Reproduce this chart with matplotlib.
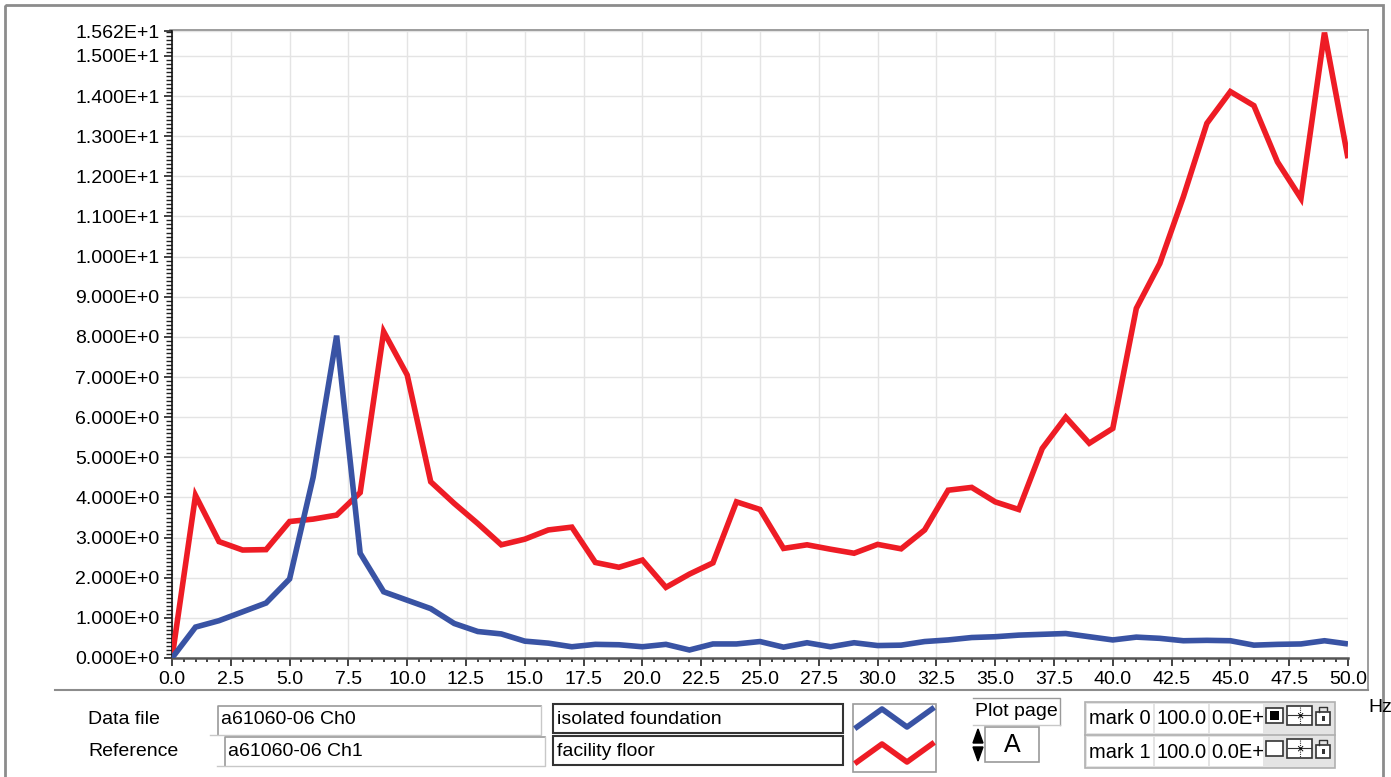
import numpy as np
import matplotlib.pyplot as plt
from matplotlib.patches import Rectangle, Polygon
from matplotlib.lines import Line2D
from matplotlib.ticker import MultipleLocator, FixedLocator, FuncFormatter

plt.rcParams['font.family'] = ['Liberation Sans', 'DejaVu Sans']

# spectrum values, one per Hz
freq = list(range(51))
isolated = [0.0, 0.77, 0.93, 1.15, 1.37, 1.97, 4.5, 8.03, 2.61, 1.65,
            1.44, 1.23, 0.86, 0.66, 0.60, 0.42, 0.37, 0.28, 0.34, 0.33,
            0.28, 0.34, 0.20, 0.35, 0.35, 0.41, 0.27, 0.38, 0.28, 0.38,
            0.31, 0.32, 0.41, 0.45, 0.51, 0.53, 0.57, 0.59, 0.61, 0.53,
            0.45, 0.52, 0.49, 0.43, 0.44, 0.43, 0.32, 0.34, 0.35, 0.43,
            0.35]
facility = [0.0, 4.05, 2.90, 2.69, 2.70, 3.40, 3.46, 3.56, 4.12, 8.13,
            7.05, 4.39, 3.85, 3.35, 2.82, 2.96, 3.19, 3.26, 2.38, 2.26,
            2.44, 1.76, 2.09, 2.37, 3.89, 3.70, 2.73, 2.82, 2.71, 2.61,
            2.83, 2.72, 3.19, 4.18, 4.25, 3.89, 3.70, 5.22, 6.00, 5.35,
            5.72, 8.71, 9.83, 11.49, 13.32, 14.11, 13.76, 12.36, 11.45, 15.58,
            12.45]

y_top = 15.62
y_ticks = list(range(16)) + [y_top]
labels = ['isolated foundation', 'facility floor']
files = ['a61060-06 Ch0', 'a61060-06 Ch1']
marks = ['mark 0', 'mark 1']

BLUE = '#3953a4'
RED = '#ee1c25'
W, H = 1391, 777
PX = 72 / 100.0  # points per pixel
LW = 5.6 * PX

fig = plt.figure(figsize=(W / 100, H / 100), dpi=100)
fig.patch.set_facecolor('white')

ax = fig.add_axes([172 / W, 1 - 658 / H, (1348 - 172) / W, (658 - 31) / H])
ax.plot(freq, facility, color=RED, lw=LW, solid_joinstyle='miter', solid_capstyle='butt', zorder=3)
ax.plot(freq, isolated, color=BLUE, lw=LW, solid_joinstyle='miter', solid_capstyle='butt', zorder=4)
ax.set_xlim(0, 50)
ax.set_ylim(0, y_top)


def sci(v, pos=None):
    e = 1 if v >= 10 else 0
    return '%.3fE+%d' % (v / 10 ** e, e)


ax.yaxis.set_major_locator(FixedLocator(y_ticks))
ax.yaxis.set_major_formatter(FuncFormatter(sci))
ax.yaxis.set_minor_locator(MultipleLocator(0.1))
ax.xaxis.set_major_locator(MultipleLocator(2.5))
ax.xaxis.set_major_formatter(FuncFormatter(lambda v, p: '%.1f' % v))
ax.xaxis.set_minor_locator(MultipleLocator(0.5))
ax.tick_params(axis='both', which='major', labelsize=14, direction='out', width=1.2, color='#222222')
ax.tick_params(axis='y', which='major', length=6, pad=3)
ax.tick_params(axis='y', which='minor', length=4, width=1, color='#222222')
ax.tick_params(axis='x', which='major', length=6, pad=3)
ax.tick_params(axis='x', which='minor', length=3, width=1.2, color='#222222')
ax.grid(True, which='major', color='#e4e4e4', lw=1)
ax.set_axisbelow(True)
for s in ['top', 'right']:
    ax.spines[s].set_visible(False)
ax.spines['left'].set_color('#111111')
ax.spines['left'].set_linewidth(1.2)
ax.spines['bottom'].set_color('#555555')
ax.spines['bottom'].set_linewidth(1.8)

# overlay in pixel coordinates for the frame and the panel below the plot
ov = fig.add_axes([0, 0, 1, 1], zorder=-1)
ov.set_xlim(0, W)
ov.set_ylim(H, 0)
ov.axis('off')

grey = '#8c8c8c'
ov.add_patch(Rectangle((5, 5), 1378, H + 10, fill=False, ec=grey, lw=2))
ov.plot([170, 1368], [30, 30], color=grey, lw=1.2)
ov.plot([1368, 1368], [30, 690], color=grey, lw=1.2)
ov.plot([55, 1368], [690, 690], color=grey, lw=1.5)

fs = 14
ov.text(88, 720, 'Data file', fontsize=fs, va='center')
ov.text(88, 752, 'Reference', fontsize=fs, va='center')

# file name fields
for i, (x0, y0) in enumerate([(218, 706), (225, 737)]):
    ov.plot([x0, x0, 541 + 4 * i], [y0 + 29, y0, y0], color='#9a9a9a', lw=1.2)
    ov.plot([x0 - 8, 541 + 4 * i, 541 + 4 * i], [y0 + 29, y0 + 29, y0], color='#c8c8c8', lw=1)
    ov.text(x0 + 3, y0 + 14, files[i], fontsize=fs, va='center')

# series name fields
for i, y0 in enumerate([704, 736]):
    ov.add_patch(Rectangle((553, y0), 290, 29, fill=False, ec='#333333', lw=1.5))
    ov.text(557, y0 + 15, labels[i], fontsize=14, va='center')

# legend swatch
ov.add_patch(Rectangle((853, 704), 83, 68, fill=False, ec='#9a9a9a', lw=1.2))
zx = [857, 882, 907, 932]
ov.add_line(Line2D(zx, [727, 709, 727, 709], color=BLUE, lw=LW))
ov.add_line(Line2D(zx, [762, 744, 762, 744], color=RED, lw=LW))

# plot page selector
ov.plot([973, 1060, 1060], [698, 698, 725], color='#9a9a9a', lw=1)
ov.plot([973, 1060], [725, 725], color='#c8c8c8', lw=1)
ov.text(975, 712, 'Plot page', fontsize=fs, va='center')
ov.add_patch(Polygon([[973, 743], [983, 743], [978, 729]], color='black'))
ov.add_patch(Polygon([[973, 747], [983, 747], [978, 761]], color='black'))
ov.add_patch(Rectangle((985, 727), 54, 35, fill=False, ec='#9a9a9a', lw=1.2))
ov.text(1012, 745, 'A', fontsize=18, va='center', ha='center')

# marker table
ov.add_patch(Rectangle((1085, 702), 250, 66, fc='#e4e4e4', ec='#b0b0b0', lw=1.2))
ov.plot([1085, 1335], [735, 735], color='#b0b0b0', lw=1.2)
for i, y0 in enumerate([704, 737]):
    for cx, cw in [(1087, 66), (1155, 53), (1210, 53)]:
        ov.add_patch(Rectangle((cx, y0), cw, 29, fc='white', ec='none'))
    yc = y0 + 15
    ov.text(1089, yc, marks[i], fontsize=14.5, va='center')
    ov.text(1157, yc, '100.0', fontsize=14.5, va='center')
    ov.text(1211, yc, '0.0E+', fontsize=14.5, va='center')
    ov.add_patch(Rectangle((1266, y0 + 4), 17, 15, fc='white', ec='#333333', lw=1.2))
    if i == 0:
        ov.add_patch(Rectangle((1270, y0 + 7), 9, 9, fc='black', ec='none'))
    ov.add_patch(Rectangle((1287, y0 + 2), 25, 19, fc='white', ec='#333333', lw=1.2))
    ov.plot([1288, 1311], [y0 + 11, y0 + 11], color='#333333', lw=0.8)
    ov.plot([1299.5, 1299.5], [y0 + 3, y0 + 20], color='#333333', lw=0.8, ls=(0, (1, 1)))
    ov.text(1299.5, y0 + 12, '×', fontsize=9, ha='center', va='center')
    ov.add_patch(Rectangle((1316, y0 + 8), 14, 13, fc='white', ec='#333333', lw=1.2))
    ov.plot([1319, 1319, 1327, 1327], [y0 + 8, y0 + 3, y0 + 3, y0 + 6], color='#333333', lw=1)
    ov.add_patch(Rectangle((1321.5, y0 + 12), 3, 5, fc='#333333', ec='none'))
ov.text(1368, 707, 'Hz', fontsize=fs, va='center')

fig.savefig('out.png', dpi=100)
